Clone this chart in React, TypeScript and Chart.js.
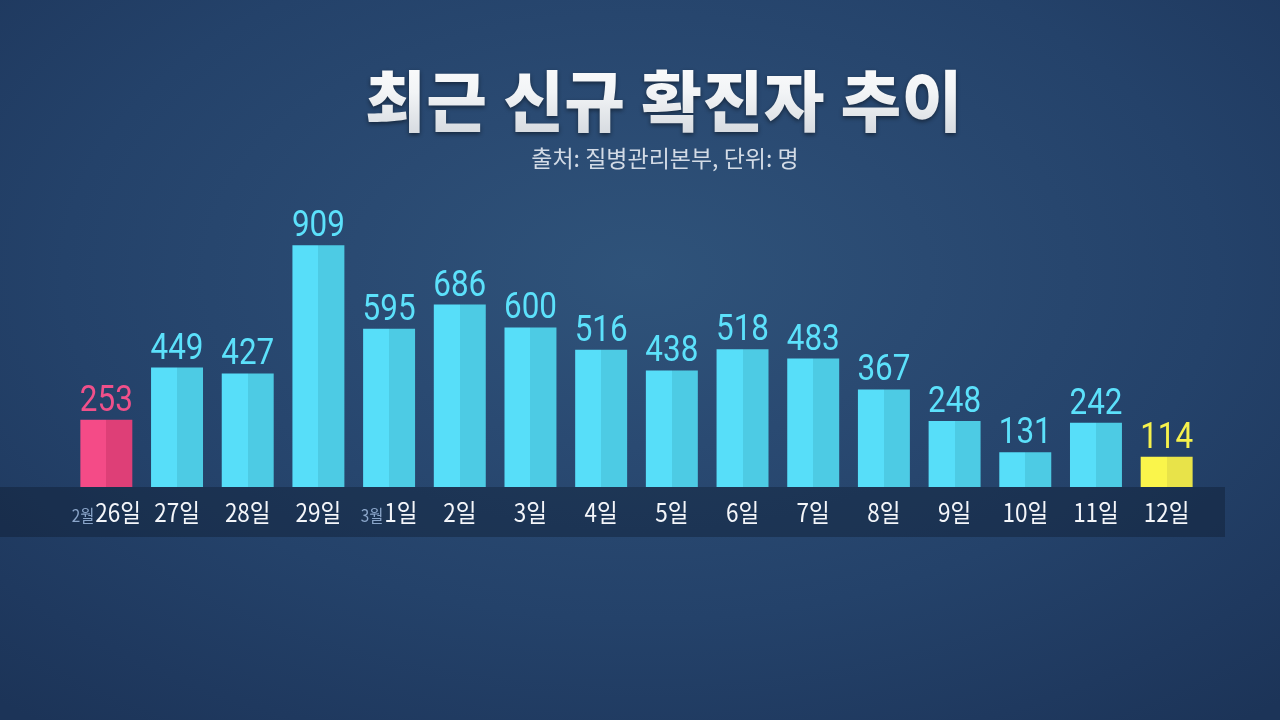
import React, { useEffect, useRef } from "react";
import { Chart, registerables } from "chart.js";

Chart.register(...registerables);

// ---- data ----
const dayLabels = ["26일", "27일", "28일", "29일", "1일", "2일", "3일", "4일", "5일", "6일", "7일", "8일", "9일", "10일", "11일", "12일"];
const monthPrefixes = ["2월", "", "", "", "3월", "", "", "", "", "", "", "", "", "", "", ""];
const newCases = [253, 449, 427, 909, 595, 686, 600, 516, 438, 518, 483, 367, 248, 131, 242, 114];
const titleText = "최근 신규 확진자 추이";
const subtitleText = "출처: 질병관리본부, 단위: 명";

// ---- styles ----
const FIRST = { left: "#f44b87", right: "#de3f77", text: "#f0508a" };
const LAST = { left: "#faf54b", right: "#e8e349", text: "#f6f14c" };
const NORMAL = { left: "#57def9", right: "#4dcbe4", text: "#5ce1fb" };
const styleFor = (i: number, n: number) => (i === 0 ? FIRST : i === n - 1 ? LAST : NORMAL);
const CAT_PCT = 0.735;

const labelPlugin = {
  id: "customLabels",
  beforeDatasetsDraw(chart: any) {
    const ctx = chart.ctx;
    const area = chart.chartArea;
    ctx.save();
    ctx.fillStyle = "rgba(12, 22, 40, 0.36)";
    ctx.fillRect(0, area.bottom, 1225, 50);
    ctx.restore();
  },
  afterDatasetsDraw(chart: any) {
    const ctx = chart.ctx;
    const xs = chart.scales.x;
    const ys = chart.scales.y;
    const n = newCases.length;
    ctx.save();
    for (let i = 0; i < n; i++) {
      const x = xs.getPixelForValue(i);
      const v = newCases[i];
      const st = styleFor(i, n);
      // value label
      ctx.font = "37px Roboto";
      ctx.fillStyle = st.text;
      ctx.textAlign = "center";
      ctx.textBaseline = "alphabetic";
      ctx.save();
      ctx.translate(x, ys.getPixelForValue(v) - 9);
      ctx.scale(0.85, 1);
      ctx.fillText(String(v), 0, 0);
      ctx.restore();

      // day label with optional month prefix
      const baseY = chart.chartArea.bottom + 35;
      const sx = 0.9;
      ctx.textAlign = "left";
      ctx.font = "25px 'Noto Sans CJK KR'";
      const wDay = ctx.measureText(dayLabels[i]).width * sx;
      let wPre = 0;
      const pre = monthPrefixes[i];
      if (pre) {
        ctx.font = "17px 'Noto Sans CJK KR'";
        wPre = ctx.measureText(pre).width * 0.9 + 1;
      }
      const start = x - (wPre + wDay) / 2;
      if (pre) {
        ctx.font = "17px 'Noto Sans CJK KR'";
        ctx.fillStyle = "#8ba6ca";
        ctx.save();
        ctx.translate(start, baseY);
        ctx.scale(0.9, 1);
        ctx.fillText(pre, 0, 0);
        ctx.restore();
      }
      ctx.font = "25px 'Noto Sans CJK KR'";
      ctx.fillStyle = "#f4f6fa";
      ctx.save();
      ctx.translate(start + wPre, baseY);
      ctx.scale(sx, 1);
      ctx.fillText(dayLabels[i], 0, 0);
      ctx.restore();
    }
    ctx.restore();
  },
};

function splitFill(c: any) {
  const n = newCases.length;
  const st = styleFor(c.dataIndex ?? 0, n);
  const chart = c.chart;
  const xs = chart.scales && chart.scales.x;
  if (!xs || !chart.chartArea || c.dataIndex === undefined) return st.left;
  const x = xs.getPixelForValue(c.dataIndex);
  const w = (xs.width / n) * CAT_PCT;
  const g = chart.ctx.createLinearGradient(x - w / 2, 0, x + w / 2, 0);
  g.addColorStop(0, st.left);
  g.addColorStop(0.5, st.left);
  g.addColorStop(0.5, st.right);
  g.addColorStop(1, st.right);
  return g;
}

function BarChart() {
  const ref = useRef<HTMLCanvasElement | null>(null);
  useEffect(() => {
    if (!ref.current) return;
    const chart = new Chart(ref.current, {
      type: "bar",
      data: {
        labels: dayLabels,
        datasets: [
          {
            data: newCases,
            backgroundColor: splitFill as any,
            borderWidth: 0,
            categoryPercentage: CAT_PCT,
            barPercentage: 1.0,
          },
        ],
      },
      options: {
        animation: false,
        responsive: true,
        maintainAspectRatio: false,
        layout: { padding: { left: 71, right: 78, top: 221, bottom: 233 } },
        plugins: { legend: { display: false }, tooltip: { enabled: false }, title: { display: false } },
        scales: {
          x: { display: false, grid: { display: false } },
          y: { display: false, min: 0, max: 1000 },
        },
      },
      plugins: [labelPlugin],
    });
    return () => chart.destroy();
  }, []);
  return (
    <div style={{ position: "absolute", left: 0, top: 0, width: 1280, height: 720 }}>
      <canvas ref={ref} />
    </div>
  );
}

export default function App() {
  return (
    <div
      style={{
        position: "fixed",
        left: 0,
        top: 0,
        width: 1280,
        height: 720,
        overflow: "hidden",
        background:
          "radial-gradient(ellipse 75% 80% at 50% 38%, #2f537a 0%, #2a4a72 30%, #24426a 60%, #1f395f 85%, #1c3458 100%)",
        fontFamily: "'Noto Sans CJK KR', sans-serif",
      }}
    >
      <BarChart />
      <div
        style={{
          position: "absolute",
          left: 48,
          top: 64,
          width: 1232,
          textAlign: "center",
          fontSize: 66,
          fontWeight: 900,
          lineHeight: 1,
          letterSpacing: 0.5,
          filter: "drop-shadow(0 2px 2px rgba(0,0,0,0.45))",
        }}
      >
        <span
          style={{
            background: "linear-gradient(#ffffff 0%, #f2f4f6 45%, #cfd4da 100%)",
            WebkitBackgroundClip: "text",
            backgroundClip: "text",
            color: "transparent",
          }}
        >
          {titleText}
        </span>
      </div>
      <div
        style={{
          position: "absolute",
          left: 50,
          top: 146,
          width: 1230,
          textAlign: "center",
          fontSize: 23,
          lineHeight: 1,
          color: "#d3dbe6",
        }}
      >
        {subtitleText}
      </div>
    </div>
  );
}
